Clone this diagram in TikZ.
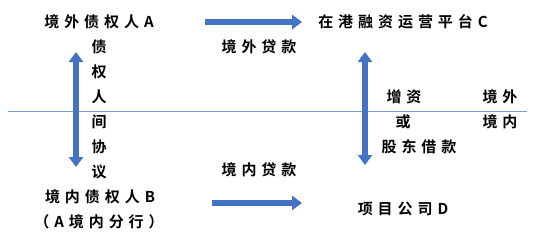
\documentclass[tikz,border=0pt]{standalone}
\usepackage{fontspec}
\setmainfont{Noto Sans CJK SC}[UprightFont=* Bold, LetterSpace=33]
\usetikzlibrary{arrows.meta, positioning}
\definecolor{arrblue}{HTML}{4472C4}
\definecolor{lineblue}{HTML}{7E9DD3}

\begin{document}
\begin{tikzpicture}[
    x=1pt, y=-1pt,
    lbl/.style={inner sep=1pt, font=\fontsize{15}{15}\selectfont},
    vlbl/.style={lbl, align=center, font=\fontsize{15}{25}\selectfont},
    blockarrow/.style={arrblue, line width=6pt,
      -{Triangle[width=14pt, length=10pt]}},
    blockboth/.style={arrblue, line width=6pt,
      {Triangle[width=14pt, length=10pt]}-{Triangle[width=14pt, length=10pt]}},
    border/.style={lineblue, line width=1pt},
  ]
    \useasboundingbox (0,0) rectangle (543,244);
    % parties
    \node[lbl] (A) at (99,22) {境外债权人A};
    \node[lbl] (C) at (403,22) {在港融资运营平台C};
    \node[lbl] (B) at (100,197) {境内债权人B};
    \node[lbl] (Bnote) at (99,222) {（A境内分行）};
    \node[lbl] (D) at (403,209) {项目公司D};
    % boundary line
    \coordinate (lineL) at (8,111);
    \coordinate (lineR) at (527,111);
    \draw[border] (lineL) -- (lineR);
    % loan labels
    \node[lbl] (loanOut) at (259,47) {境外贷款};
    \node[lbl] (loanIn) at (259,170) {境内贷款};
    \node[vlbl, anchor=north] (agree) at (99,39) {债\\权\\人\\间\\协\\议};
    \node[lbl] (capital) at (404,97) {增资};
    \node[lbl] (orword) at (403,122) {或};
    \node[lbl] (share) at (419,147) {股东借款};
    \node[lbl] (outside) at (500,97) {境外};
    \node[lbl] (inside) at (500,122) {境内};
    % arrow ends
    \coordinate (inS) at (212,203);
    \coordinate (inE) at (302,203);
    \coordinate (agrT) at (76,52);
    \coordinate (agrB) at (76,167);
    \coordinate (capT) at (365,52);
    \coordinate (capB) at (365,165);
    % arrows
    \draw[blockarrow, shorten <=50pt, shorten >=15pt] (A.east) -- (C.west);
    \draw[blockarrow] (inS) -- (inE);
    \draw[blockboth] (agrT) -- (agrB);
    \draw[blockboth] (capT) -- (capB);
  \end{tikzpicture}
\end{document}
